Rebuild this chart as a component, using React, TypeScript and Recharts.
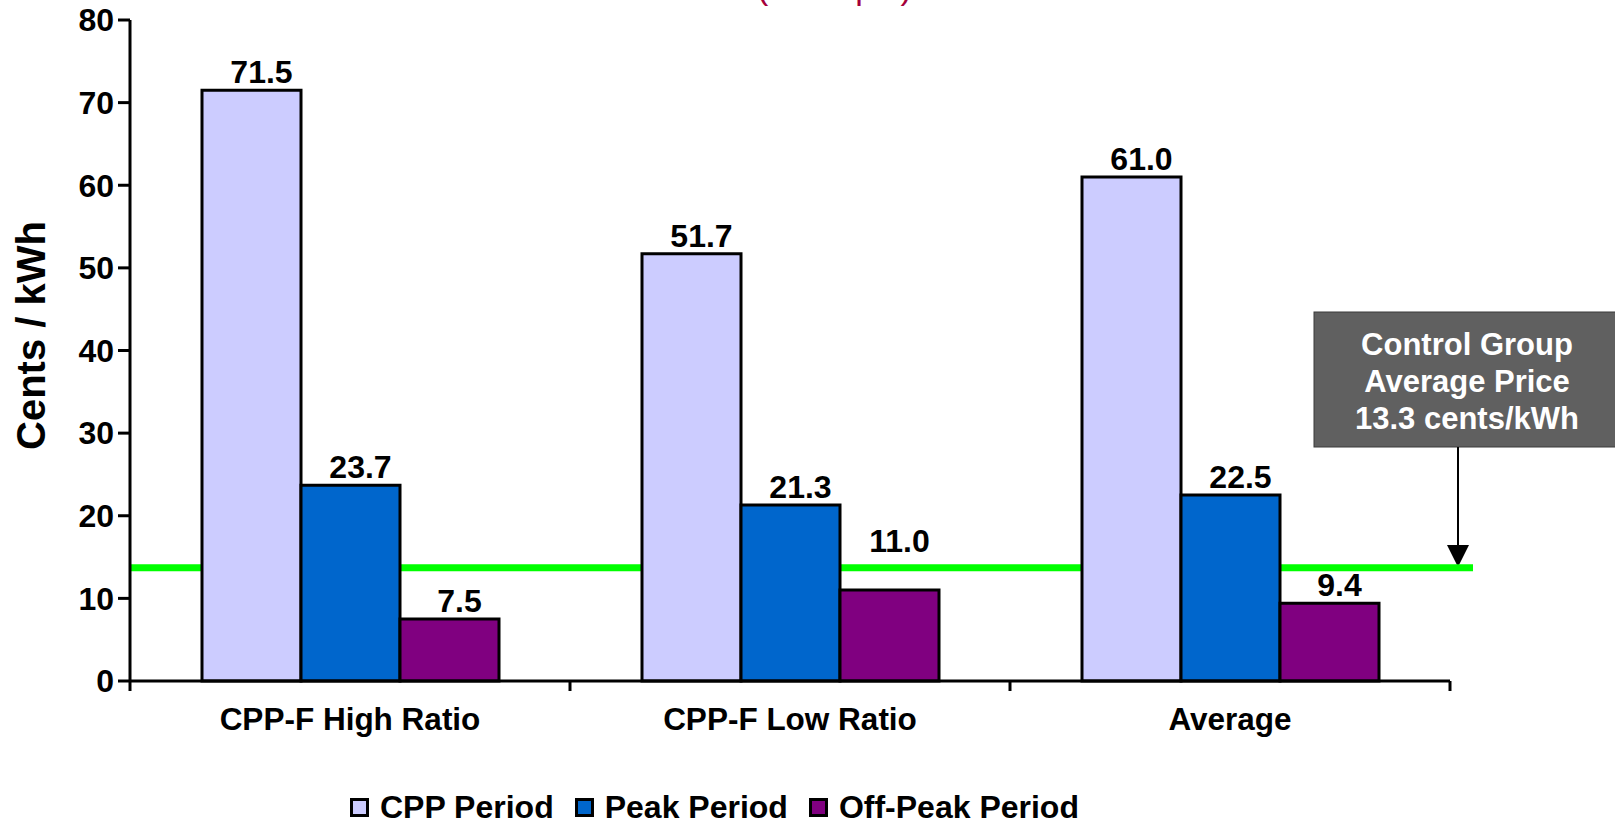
import { BarChart, Bar, XAxis, YAxis, Legend, LabelList, Label, ReferenceLine, Customized } from "recharts";

const CATEGORIES = ["CPP-F High Ratio", "CPP-F Low Ratio", "Average"];
const CPP_PERIOD = [71.5, 51.7, 61.0];
const PEAK_PERIOD = [23.7, 21.3, 22.5];
const OFF_PEAK_PERIOD = [7.5, 11.0, 9.4];
const Y_TICKS = [0, 10, 20, 30, 40, 50, 60, 70, 80];
const CONTROL_LINE = 13.7;
const CALLOUT_LINES = ["Control Group", "Average Price", "13.3 cents/kWh"];

const SERIES = [
  { key: "cpp", name: "CPP Period", color: "#CCCCFF" },
  { key: "peak", name: "Peak Period", color: "#0066CC" },
  { key: "offPeak", name: "Off-Peak Period", color: "#800080" },
];

const FONT = "'Liberation Sans', Arial, Helvetica, sans-serif";

const data = CATEGORIES.map((name, i) => ({
  name,
  cpp: CPP_PERIOD[i],
  peak: PEAK_PERIOD[i],
  offPeak: OFF_PEAK_PERIOD[i],
}));

// the 11.0 label was moved up above the green line in the original
const LABEL_LIFT: Record<string, number> = { "offPeak-1": 31 };

const X_TICK_MARGIN = 27;

// category label at the band centre, tick marks at the band edges
const CategoryTick = (props: any) => {
  const { x, y, payload, index, visibleTicksCount } = props;
  const half = Number(payload.offset) || 0;
  const axisY = y - X_TICK_MARGIN;
  const last = index === visibleTicksCount - 1;
  return (
    <g>
      <line x1={x - half} y1={axisY} x2={x - half} y2={axisY + 10} stroke="#000" strokeWidth={3} />
      {last && <line x1={x + half} y1={axisY} x2={x + half} y2={axisY + 10} stroke="#000" strokeWidth={3} />}
      <text
        x={x}
        y={y}
        dy="0.71em"
        textAnchor="middle"
        fontFamily={FONT}
        fontSize={31.5}
        fontWeight="bold"
        fill="#000"
      >
        {payload.value}
      </text>
    </g>
  );
};

const makeValueLabel = (seriesKey: string) => (props: any) => {
  const { x, y, width, value, index } = props;
  const lift = LABEL_LIFT[`${seriesKey}-${index}`] || 0;
  return (
    <text
      x={Number(x) + Number(width) / 2 + 10}
      y={Number(y) - 7 - lift}
      textAnchor="middle"
      fontFamily={FONT}
      fontSize={32}
      fontWeight="bold"
      fill="#000"
    >
      {Number(value).toFixed(1)}
    </text>
  );
};

const renderYLabel = (props: any) => {
  const { viewBox } = props;
  const cy = viewBox.y + viewBox.height / 2 - 15;
  return (
    <text
      x={31}
      y={cy}
      transform={`rotate(-90 31 ${cy})`}
      textAnchor="middle"
      dominantBaseline="central"
      fontFamily={FONT}
      fontSize={40}
      fontWeight="bold"
      fill="#000"
    >
      Cents / kWh
    </text>
  );
};

const greenLine = (p: any) => (
  <line x1={p.x1} y1={p.y1} x2={p.x2 + 23} y2={p.y2} stroke="#00FF00" strokeWidth={7} />
);

// callout box with arrow pointing at the control group line
const Callout = () => (
  <g>
    <rect x={1314} y={312} width={320} height={135} fill="#606060" stroke="#3a3a3a" strokeWidth={1} />
    {CALLOUT_LINES.map((line, i) => (
      <text
        key={line}
        x={1467}
        y={355 + i * 37}
        textAnchor="middle"
        fontFamily={FONT}
        fontSize={31}
        fontWeight="bold"
        fill="#fff"
      >
        {line}
      </text>
    ))}
    <line x1={1458} y1={447} x2={1458} y2={548} stroke="#000" strokeWidth={2} />
    <polygon points="1447,545 1469,545 1458,567" fill="#000" />
  </g>
);

// only the bottom of the title's second line is visible in the reference
const TitleFragment = () => (
  <text x={757} y={-1} fontFamily={FONT} fontSize={34} fill="#A5003A">
    (Example)
  </text>
);

const renderLegend = () => (
  <div style={{ display: "flex", alignItems: "center", height: 32, fontFamily: FONT, fontSize: 32, fontWeight: "bold", color: "#000" }}>
    {SERIES.map((s) => (
      <div key={s.key} style={{ display: "flex", alignItems: "center", marginRight: 21 }}>
        <div
          style={{
            width: 19,
            height: 19,
            boxSizing: "border-box",
            border: "3px solid #000",
            background: s.color,
            marginRight: 11,
          }}
        />
        <span style={{ whiteSpace: "nowrap" }}>{s.name}</span>
      </div>
    ))}
  </div>
);

export default function App() {
  return (
    <div style={{ position: "absolute", left: 0, top: 0, width: 1615, height: 823, background: "#fff" }}>
      <BarChart
        width={1615}
        height={823}
        data={data}
        margin={{ top: 20, right: 165, bottom: 82, left: 0 }}
        barGap={0}
        barSize={99}
      >
        <XAxis
          dataKey="name"
          height={60}
          axisLine={{ stroke: "#000", strokeWidth: 3 }}
          tickLine={false}
          tickSize={0}
          tickMargin={X_TICK_MARGIN}
          interval={0}
          tick={<CategoryTick />}
        />
        <YAxis
          domain={[0, 80]}
          ticks={Y_TICKS}
          width={130}
          interval={0}
          axisLine={{ stroke: "#000", strokeWidth: 3 }}
          tickLine={{ stroke: "#000", strokeWidth: 3 }}
          tickSize={12}
          tickMargin={4}
          tick={{ fill: "#000", fontSize: 32, fontWeight: "bold", fontFamily: FONT }}
        >
          <Label content={renderYLabel} />
        </YAxis>
        <ReferenceLine y={CONTROL_LINE} shape={greenLine} zIndex={250} />
        {SERIES.map((s) => (
          <Bar
            key={s.key}
            dataKey={s.key}
            name={s.name}
            fill={s.color}
            stroke="#000"
            strokeWidth={3}
            isAnimationActive={false}
          >
            <LabelList dataKey={s.key} content={makeValueLabel(s.key)} />
          </Bar>
        ))}
        <Customized component={Callout} />
        <Customized component={TitleFragment} />
        <Legend
          verticalAlign="middle"
          align="center"
          layout="horizontal"
          wrapperStyle={{ left: 350, top: 791, width: "auto" }}
          content={renderLegend}
        />
      </BarChart>
    </div>
  );
}
